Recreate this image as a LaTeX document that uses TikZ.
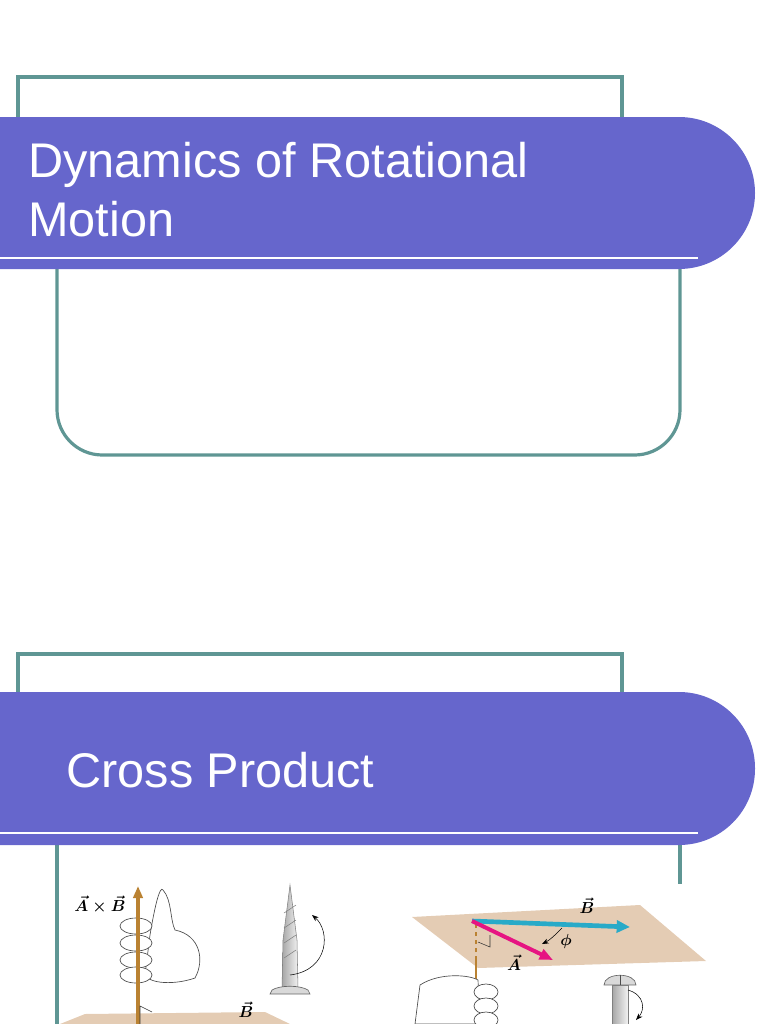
\documentclass[tikz,border=0pt]{standalone}
\usepackage{fontspec}
\setmainfont{Liberation Sans}
\usetikzlibrary{arrows.meta}
\definecolor{banner}{RGB}{102,102,204}
\definecolor{frameline}{RGB}{95,150,148}
\definecolor{plane}{RGB}{228,204,180}
\definecolor{rod}{RGB}{186,130,50}
\definecolor{vecb}{RGB}{40,170,200}
\definecolor{veca}{RGB}{230,20,130}
\tikzset{
  frame/.style={draw=frameline, line width=2.4pt},
  band/.style={fill=banner},
  title/.style={text=white, font=\fontsize{36.5}{42}\selectfont, anchor=base west, inner sep=0pt},
  lbl/.style={font=\boldmath\large, inner sep=1pt},
  sketch/.style={draw=black!70, fill=white, line width=.5pt},
  steel/.style={draw=black!60, fill=black!15, line width=.5pt}
}
\begin{document}
\begin{tikzpicture}[x=0.75pt, y=-0.75pt]
  \useasboundingbox (0,0) rectangle (768,1024);
  % slide 1
  \draw[frame] (18,118) -- (18,77) -- (622,77) -- (622,118);
  \draw[frame] (57,268) [rounded corners=34pt] -- (57,455) -- (680,455) [sharp corners] -- (680,268);
  \fill[band] (0,117) [rounded corners=57pt] -- (755,117) -- (755,269) [sharp corners] -- (0,269) -- cycle;
  \draw[white, line width=1.5pt] (0,258) -- (698,258);
  \node[title] (t1a) at (28,177) {Dynamics of Rotational};
  \node[title] (t1b) at (28,236) {Motion};
  % slide 2
  \draw[frame] (18,694) -- (18,654) -- (622,654) -- (622,694);
  \draw[frame] (57,845) -- (57,1024);
  \draw[frame] (680,845) -- (680,884);
  \fill[band] (0,692) [rounded corners=57pt] -- (755,692) -- (755,845) [sharp corners] -- (0,845) -- cycle;
  \draw[white, line width=1.5pt] (0,833) -- (698,833);
  \node[title] (t2) at (66,787) {Cross Product};
  % figure, left half
  \fill[plane] (60,1024) -- (85,1014) -- (265,1012) -- (290,1024) -- cycle;
  \draw[sketch] (150,935) .. controls (155,905) and (160,885) .. (163,890)
    .. controls (172,900) and (170,920) .. (175,930) .. controls (200,935) and (205,960) .. (195,978)
    .. controls (175,985) and (150,984) .. (145,975) -- cycle;
  \foreach \yy in {926,943,960,975} \draw[sketch] (136,\yy) ellipse[x radius=12pt, y radius=6pt];
  \draw[rod, line width=2.5pt, -{Triangle[length=9pt,width=7pt]}] (138,1024) -- (138,886);
  \draw[black!80] (140,1024) -- (140,1006) -- (152,1012);
  \node[lbl] (axb) at (100,905) {$\vec{A}\times\vec{B}$};
  \node[lbl] (bl) at (246,1010) {$\vec{B}$};
  \shade[left color=black!35, right color=black!5, draw=black!50] (282,990) -- (283,940) -- (290,885) -- (297,940) -- (298,990) -- cycle;
  \foreach \yy in {905,920,935,950} \draw[black!50] (284,\yy+8) -- (296,\yy);
  \fill[steel] (272,990) .. controls (280,985) and (300,985) .. (308,990) -- (310,994) -- (270,994) -- cycle;
  \draw[black, -{Stealth[length=5pt]}] (290,975) .. controls (330,970) and (330,930) .. (312,915);
  % figure, right half
  \fill[plane] (412,917) -- (640,905) -- (706,961) -- (478,968) -- cycle;
  \draw[rod, line width=2pt] (476,1024) -- (476,960);
  \draw[rod, line width=2pt, dashed] (476,960) -- (476,925);
  \draw[black!80] (478,942) -- (490,947) -- (490,935);
  \draw[vecb, line width=3.5pt, -{Triangle[length=10pt,width=9pt]}] (472,921) -- (630,927);
  \draw[veca, line width=3pt, -{Triangle[length=10pt,width=8pt]}] (472,921) -- (553,960);
  \draw[black, -{Stealth[length=5pt]}] (562,928) .. controls (555,935) and (550,940) .. (542,944);
  \node[lbl] (phi) at (566,941) {$\phi$};
  \node[lbl] (ar) at (514,963) {$\vec{A}$};
  \node[lbl] (br) at (587,906) {$\vec{B}$};
  \draw[sketch] (420,985) .. controls (440,972) and (470,975) .. (478,980) -- (480,1024) -- (415,1024) -- cycle;
  \foreach \yy in {992,1006,1020} \draw[sketch] (486,\yy) ellipse[x radius=9pt, y radius=6pt];
  \fill[steel] (604,985) .. controls (604,972) and (636,972) .. (636,985) -- cycle;
  \shade[left color=black!35, right color=black!5, draw=black!50] (612,985) rectangle (628,1024);
  \draw[black!70] (620,975) -- (620,985);
  \draw[black, -{Stealth[length=5pt]}] (628,990) .. controls (645,995) and (645,1010) .. (636,1020);
\end{tikzpicture}
\end{document}
